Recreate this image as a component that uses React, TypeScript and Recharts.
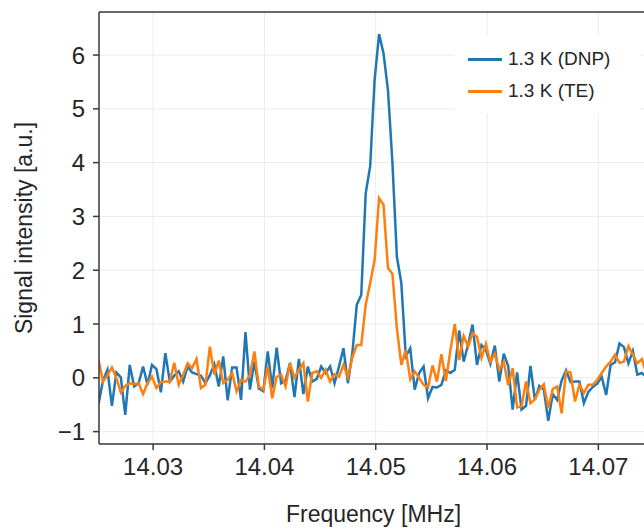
import { LineChart, Line, XAxis, YAxis, CartesianGrid, ReferenceLine } from 'recharts';

// sampling frequencies [MHz]
const freq = [
  14.0251, 14.0255, 14.0259, 14.0263, 14.0267, 14.0271, 14.0275, 14.0279, 14.0283, 14.0287,
  14.0291, 14.0295, 14.0299, 14.0303, 14.0307, 14.0311, 14.0315, 14.0319, 14.0323, 14.0327,
  14.0331, 14.0335, 14.0339, 14.0343, 14.0347, 14.0351, 14.0355, 14.0359, 14.0363, 14.0367,
  14.0371, 14.0375, 14.0379, 14.0383, 14.0387, 14.0391, 14.0395, 14.0399, 14.0403, 14.0407,
  14.0411, 14.0415, 14.0419, 14.0423, 14.0427, 14.0431, 14.0435, 14.0439, 14.0443, 14.0447,
  14.0451, 14.0455, 14.0459, 14.0463, 14.0467, 14.0471, 14.0475, 14.0479, 14.0483, 14.0487,
  14.0491, 14.0495, 14.0499, 14.0503, 14.0507, 14.0511, 14.0515, 14.0519, 14.0523, 14.0527,
  14.0531, 14.0535, 14.0539, 14.0543, 14.0547, 14.0551, 14.0555, 14.0559, 14.0563, 14.0567,
  14.0571, 14.0575, 14.0579, 14.0583, 14.0587, 14.0591, 14.0595, 14.0599, 14.0603, 14.0607,
  14.0611, 14.0615, 14.0619, 14.0623, 14.0627, 14.0631, 14.0635, 14.0639, 14.0643, 14.0647,
  14.0651, 14.0655, 14.0659, 14.0663, 14.0667, 14.0671, 14.0675, 14.0679, 14.0683, 14.0687,
  14.0691, 14.0695, 14.0699, 14.0703, 14.0707, 14.0711, 14.0715, 14.0719, 14.0723, 14.0727,
  14.0731, 14.0735, 14.0739, 14.0743,
];

// 1.3 K (DNP)
const dnp = [
  -0.48, -0.05, 0.15, -0.52, 0.1, 0.01, -0.69, 0.24, -0.16, -0.1,
  0.21, -0.13, 0.24, 0.16, -0.27, 0.46, -0.07, 0.04, 0.12, -0.07,
  0.21, 0.1, 0.07, 0.04, -0.1, 0.05, 0.25, -0.16, 0.4, -0.42,
  0.19, 0.19, -0.41, 0.85, -0.22, 0.3, -0.2, -0.25, 0.49, -0.19,
  0.56, -0.1, -0.05, 0.28, -0.36, 0.35, -0.3, 0.21, -0.07, -0.02,
  0.21, 0.09, 0.21, -0.1, 0.21, 0.55, -0.1, 0.46, 1.36, 1.54,
  3.43, 3.93, 5.54, 6.39, 6.03, 5.35, 4.0, 2.25, 1.76, 0.4,
  0.55, -0.22, 0.09, 0.21, -0.38, -0.17, -0.18, -0.13, 0.14, 0.09,
  0.15, 0.88, 0.3, 0.62, 0.99, 0.24, 0.61, 0.52, 0.26, 0.6,
  -0.07, 0.45, 0.22, -0.59, 0.1, -0.59, -0.52, 0.22, -0.41, -0.15,
  -0.22, -0.8, -0.3, -0.41, -0.05, 0.14, -0.08, -0.07, -0.07, -0.47,
  -0.26, -0.17, -0.11, 0.02, -0.32, 0.24, 0.29, 0.64, 0.57, 0.27,
  0.5, 0.06, 0.09, 0.02,
];

// 1.3 K (TE)
const te = [
  0.33, -0.07, 0.05, 0.19, 0.0, -0.27, -0.15, -0.1, -0.12, -0.1,
  -0.3, -0.1, 0.02, -0.19, -0.08, -0.07, -0.07, 0.28, -0.13, 0.05,
  0.27, 0.18, 0.35, -0.19, -0.13, 0.58, 0.06, 0.32, -0.1, -0.04,
  0.09, -0.25, -0.04, -0.07, 0.05, 0.49, -0.16, -0.22, 0.21, -0.38,
  0.02, 0.06, -0.16, 0.27, 0.0, 0.15, 0.27, -0.44, 0.09, 0.12,
  0.0, 0.15, -0.07, 0.07, 0.02, 0.24, 0.01, 0.38, 0.61, 0.61,
  1.36, 1.76, 2.19, 3.34, 3.22, 2.04, 1.93, 0.92, 0.24, 0.52,
  -0.03, 0.12, 0.0, -0.13, -0.18, 0.23, -0.07, 0.44, -0.06, 0.5,
  1.0, 0.33, 0.78, 0.58, 0.83, 0.76, 0.37, 0.63, 0.3, 0.45,
  0.15, 0.3, -0.14, 0.18, -0.55, -0.53, -0.07, -0.47, -0.4, -0.22,
  -0.12, -0.56, -0.21, -0.16, -0.66, 0.12, 0.1, -0.44, -0.13, -0.28,
  -0.13, -0.13, -0.04, 0.09, 0.21, 0.3, 0.43, 0.28, 0.3, 0.59,
  0.43, 0.27, 0.35, 0.1,
];

const xTicks = [14.03, 14.04, 14.05, 14.06, 14.07];
const yTicks = [-1, 0, 1, 2, 3, 4, 5, 6];

const data = freq.map((f, i) => ({ f, dnp: dnp[i], te: te[i] }));

const FONT = "'Liberation Sans', Arial, Helvetica, sans-serif";
const BLUE = '#1f77b4';
const ORANGE = '#ff7f0e';
const AXIS = '#3a3a3a';
const TEXT = '#262626';

const series = [
  { key: 'dnp', name: '1.3 K (DNP)', color: BLUE },
  { key: 'te', name: '1.3 K (TE)', color: ORANGE },
];

const YTitle = ({ viewBox }: any) => {
  const cy = viewBox.y + viewBox.height / 2;
  return (
    <text x={24} y={cy} transform={`rotate(-90, 24, ${cy})`} textAnchor="middle" dominantBaseline="central"
      fill={TEXT} fontSize={23} fontFamily={FONT}>
      Signal intensity [a.u.]
    </text>
  );
};

const XTitle = ({ viewBox }: any) => (
  <text x={viewBox.x + viewBox.width / 2} y={514} textAnchor="middle" dominantBaseline="central"
    fill={TEXT} fontSize={23} fontFamily={FONT}>
    Frequency [MHz]
  </text>
);

export default function App() {
  return (
    <div style={{ position: 'absolute', left: 0, top: 0, width: 644, height: 529, overflow: 'hidden', background: '#fff' }}>
      <LineChart width={648} height={529} data={data} margin={{ top: 12, right: 0, bottom: 0, left: 0 }}>
        <CartesianGrid stroke="#ebebeb" strokeWidth={1} />
        <XAxis
          dataKey="f"
          type="number"
          domain={[14.02514, 14.07446]}
          allowDataOverflow
          ticks={xTicks}
          tickFormatter={(v: number) => v.toFixed(2)}
          height={85}
          stroke={AXIS}
          strokeWidth={1.5}
          tickSize={6}
          tickMargin={8}
          tick={{ fill: TEXT, fontSize: 24, fontFamily: FONT }}
          label={<XTitle />}
        />
        <YAxis
          type="number"
          domain={[-1.23, 6.8]}
          allowDataOverflow
          ticks={yTicks}
          tickFormatter={(v: number) => (v < 0 ? '\u2212' + Math.abs(v) : String(v))}
          width={99}
          stroke={AXIS}
          strokeWidth={1.5}
          tickSize={6}
          tickMargin={8}
          tick={{ fill: TEXT, fontSize: 24, fontFamily: FONT }}
          label={<YTitle />}
        />
        <ReferenceLine y={6.8} stroke={AXIS} strokeWidth={1.5} />
        {series.map((s) => (
          <Line key={s.key} type="linear" dataKey={s.key} name={s.name} stroke={s.color} strokeWidth={2.5}
            dot={false} isAnimationActive={false} />
        ))}
      </LineChart>
      <div style={{ position: 'absolute', top: 36, left: 455, width: 185, background: '#fff', padding: '7px 0 7px 13px', boxSizing: 'border-box', fontFamily: FONT }}>
        {series.map((s) => (
          <div key={s.key} style={{ display: 'flex', alignItems: 'center', height: 32 }}>
            <div style={{ width: 34, height: 3, background: s.color, marginRight: 6 }} />
            <span style={{ color: TEXT, fontSize: 19 }}>{s.name}</span>
          </div>
        ))}
      </div>
    </div>
  );
}
